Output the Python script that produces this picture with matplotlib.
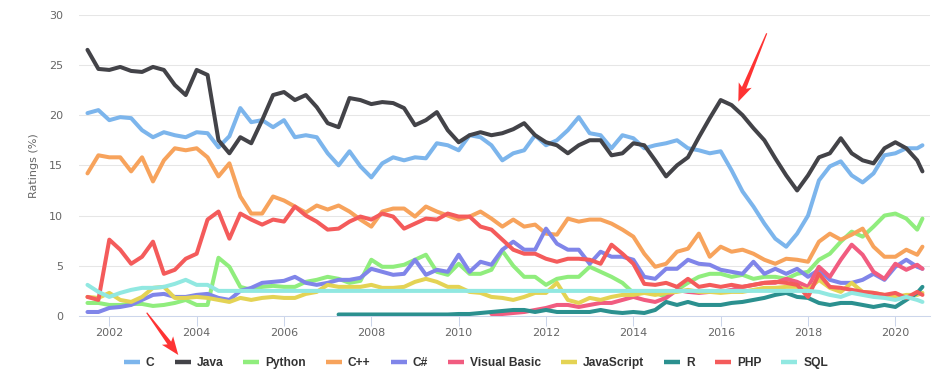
import numpy as np
import matplotlib
matplotlib.use("Agg")
import matplotlib.pyplot as plt
from matplotlib.lines import Line2D
from matplotlib.patches import Polygon

nan = np.nan

# quarterly samples Jul 2001 .. Jul 2020, plus the last month (Aug 2020)
dates = list(np.arange(2001.5, 2020.51, 0.25)) + [2020.62]

names = ["C", "Java", "Python", "C++", "C#", "Visual Basic", "JavaScript", "R", "PHP", "SQL"]
colors = ["#7cb5ec", "#434348", "#90ed7d", "#f7a35c", "#8085e9",
          "#f15c80", "#e4d354", "#2b908f", "#f45b5b", "#91e8e1"]

c_vals = [20.2, 20.5, 19.5, 19.8, 19.7, 18.5, 17.8, 18.3, 18.0, 17.8, 18.3, 18.2, 16.8,
          17.9, 20.7, 19.3, 19.5, 18.8, 19.5, 17.8, 18.0, 17.8, 16.2, 15.0, 16.4, 14.9,
          13.8, 15.2, 15.8, 15.5, 15.8, 15.7, 17.2, 17.0, 16.5, 18.0, 17.8, 17.0, 15.5,
          16.2, 16.5, 18.0, 17.0, 17.5, 18.5, 19.8, 18.2, 18.0, 16.7, 18.0, 17.7, 16.7,
          17.0, 17.2, 17.5, 16.7, 16.5, 16.2, 16.4, 14.5, 12.4, 10.9, 9.2, 7.7, 6.9,
          8.2, 10.0, 13.5, 14.9, 15.4, 14.0, 13.3, 14.2, 16.0, 16.2, 16.7, 16.7, 17.0]

java_vals = [26.5, 24.6, 24.5, 24.8, 24.4, 24.3, 24.8, 24.5, 23.0, 22.0, 24.5, 24.0, 17.5,
             16.2, 17.8, 17.2, 19.5, 22.0, 22.3, 21.5, 22.0, 20.8, 19.2, 18.8, 21.7, 21.5,
             21.1, 21.3, 21.2, 20.7, 19.0, 19.5, 20.3, 18.5, 17.3, 18.0, 18.3, 18.0, 18.2,
             18.6, 19.2, 18.0, 17.3, 17.0, 16.2, 17.0, 17.5, 17.5, 16.0, 16.2, 17.2, 17.0,
             15.5, 13.9, 15.0, 15.8, 17.8, 19.7, 21.5, 21.0, 20.0, 18.7, 17.5, 15.7, 14.0,
             12.5, 14.0, 15.8, 16.2, 17.7, 16.2, 15.5, 15.2, 16.7, 17.3, 16.7, 15.5, 14.4]

python_vals = [1.3, 1.3, 1.1, 1.1, 1.2, 1.2, 1.0, 1.1, 1.3, 1.6, 1.1, 1.1, 5.8,
               4.9, 2.9, 2.6, 2.9, 3.0, 2.9, 2.9, 3.4, 3.6, 3.9, 3.7, 3.3, 3.5,
               5.6, 4.9, 4.9, 5.1, 5.6, 6.1, 4.4, 4.1, 5.2, 4.2, 4.2, 4.6, 6.5,
               5.0, 3.9, 3.9, 3.1, 3.7, 3.9, 3.9, 4.9, 4.4, 3.9, 3.3, 2.3, 2.4,
               2.3, 1.9, 2.6, 3.3, 3.9, 4.2, 4.2, 3.9, 4.1, 3.7, 3.9, 3.9, 3.7,
               4.2, 4.4, 5.6, 6.2, 7.4, 8.4, 7.9, 8.9, 10.0, 10.2, 9.7, 8.6, 9.7]

cpp_vals = [14.2, 16.0, 15.8, 15.8, 14.4, 15.8, 13.4, 15.5, 16.7, 16.5, 16.7, 15.8, 13.9,
            15.2, 11.9, 10.2, 10.2, 11.9, 11.5, 10.9, 10.3, 11.0, 10.6, 11.0, 10.4, 9.6,
            8.9, 10.4, 10.7, 10.7, 9.9, 10.9, 10.4, 10.0, 9.6, 9.9, 10.4, 9.7, 8.9,
            9.6, 8.9, 9.1, 8.2, 8.1, 9.7, 9.4, 9.6, 9.6, 9.2, 8.6, 7.9, 6.2,
            4.9, 5.2, 6.4, 6.7, 8.2, 5.9, 6.9, 6.4, 6.6, 6.2, 5.6, 5.2, 5.7,
            5.6, 5.4, 7.4, 8.2, 7.6, 8.1, 8.7, 6.9, 5.9, 5.9, 6.6, 6.1, 6.9]

csharp_vals = [0.4, 0.4, 0.8, 0.9, 1.1, 1.6, 2.1, 2.2, 1.9, 1.9, 2.1, 2.2, 1.8,
               1.6, 2.5, 2.8, 3.3, 3.4, 3.5, 3.9, 3.3, 3.1, 3.3, 3.6, 3.6, 3.8,
               4.7, 4.4, 4.1, 4.2, 5.6, 4.1, 4.6, 4.4, 6.1, 4.4, 5.4, 5.1, 6.6,
               7.4, 6.6, 6.6, 8.7, 7.2, 6.6, 6.6, 5.2, 6.4, 5.9, 5.9, 5.6, 3.9,
               3.7, 4.7, 4.7, 5.6, 5.2, 5.1, 4.6, 4.4, 4.2, 5.4, 4.2, 4.7, 4.2,
               4.7, 3.9, 4.6, 3.6, 3.3, 3.3, 3.6, 4.2, 3.6, 4.9, 5.6, 4.9, 4.7]

vb_vals = [nan, nan, nan, nan, nan, nan, nan, nan, nan, nan, nan, nan, nan,
           nan, nan, nan, nan, nan, nan, nan, nan, nan, nan, nan, nan, nan,
           nan, nan, nan, nan, nan, nan, nan, nan, nan, nan, nan, 0.2, 0.2,
           0.3, 0.4, 0.6, 0.8, 1.1, 1.1, 0.9, 1.1, 1.3, 1.3, 1.6, 1.9, 1.6,
           1.4, 1.8, 2.6, 2.4, 2.3, 2.4, 2.4, 2.6, 2.9, 3.1, 3.3, 3.3, 3.7,
           3.4, 2.9, 4.9, 3.9, 5.6, 7.1, 6.1, 4.4, 3.7, 5.2, 4.6, 5.1, 4.7]

js_vals = [1.9, 1.8, 2.3, 1.6, 1.4, 1.9, 2.8, 2.9, 1.8, 1.8, 1.9, 1.8, 1.6,
           1.4, 1.8, 1.6, 1.8, 1.9, 1.8, 1.8, 2.2, 2.4, 3.1, 2.9, 2.9, 2.9,
           3.1, 2.8, 2.8, 2.9, 3.4, 3.7, 3.4, 2.9, 2.9, 2.4, 2.3, 1.9, 1.8,
           1.6, 1.9, 2.3, 2.3, 3.3, 1.6, 1.3, 1.8, 1.6, 1.9, 2.1, 2.1, 2.3,
           2.1, 2.3, 2.4, 2.6, 2.4, 2.4, 2.3, 2.4, 2.4, 2.6, 2.8, 2.8, 2.9,
           2.9, 2.6, 3.6, 2.8, 2.4, 3.3, 2.4, 2.3, 2.1, 1.9, 2.1, 2.1, 2.3]

r_vals = [nan, nan, nan, nan, nan, nan, nan, nan, nan, nan, nan, nan, nan,
          nan, nan, nan, nan, nan, nan, nan, nan, nan, nan, 0.15, 0.15, 0.15,
          0.15, 0.15, 0.15, 0.15, 0.15, 0.15, 0.15, 0.15, 0.2, 0.2, 0.3, 0.4, 0.5,
          0.6, 0.6, 0.4, 0.6, 0.4, 0.4, 0.4, 0.4, 0.6, 0.4, 0.3, 0.4, 0.3,
          0.6, 1.4, 1.1, 1.4, 1.1, 1.1, 1.1, 1.3, 1.4, 1.6, 1.8, 2.1, 2.3,
          1.9, 1.8, 1.3, 1.1, 1.3, 1.3, 1.1, 0.9, 1.1, 0.9, 1.6, 2.3, 2.9]

php_vals = [1.9, 1.6, 7.6, 6.6, 5.2, 5.9, 7.4, 4.2, 4.6, 5.7, 6.2, 9.6, 10.4,
            7.7, 10.2, 9.6, 9.1, 9.6, 9.4, 10.9, 10.0, 9.4, 8.6, 8.7, 9.4, 9.9,
            9.6, 10.2, 9.9, 8.7, 9.2, 9.7, 9.6, 10.2, 9.9, 9.9, 8.9, 8.6, 7.6,
            6.6, 6.2, 6.2, 5.7, 5.4, 5.7, 5.7, 5.6, 5.2, 7.1, 6.2, 5.2, 3.2,
            3.1, 3.3, 2.9, 3.7, 2.9, 3.1, 2.9, 3.1, 2.9, 3.1, 3.3, 3.4, 3.3,
            3.1, 1.9, 4.2, 2.9, 2.8, 2.6, 2.4, 2.3, 2.1, 2.3, 1.8, 2.4, 2.1]

sql_vals = [3.1, 2.4, 1.9, 2.3, 2.6, 2.8, 2.8, 2.9, 3.2, 3.6, 3.1, 3.1, 2.5,
            2.5, 2.5, 2.5, 2.5, 2.5, 2.5, 2.5, 2.5, 2.5, 2.5, 2.5, 2.5, 2.5,
            2.5, 2.5, 2.5, 2.5, 2.5, 2.5, 2.5, 2.5, 2.5, 2.5, 2.5, 2.5, 2.5,
            2.5, 2.5, 2.5, 2.5, 2.5, 2.5, 2.5, 2.5, 2.5, 2.5, 2.5, 2.5, 2.5,
            2.5, 2.5, 2.5, 2.5, 2.5, 2.5, 2.5, 2.5, 2.5, 2.5, 2.5, 2.5, 2.5,
            2.5, 2.5, 2.4, 2.1, 1.9, 2.3, 2.1, 1.9, 1.8, 1.6, 1.9, 1.6, 1.4]

series = [c_vals, java_vals, python_vals, cpp_vals, csharp_vals,
          vb_vals, js_vals, r_vals, php_vals, sql_vals]

year_ticks = [2002, 2004, 2006, 2008, 2010, 2012, 2014, 2016, 2018, 2020]
rating_ticks = [0, 5, 10, 15, 20, 25, 30]

W, H = 952, 388


def red_arrow(fig, tail, tip, color="#fe3333"):
    # tail / tip given in pixels from the top-left corner
    t = np.array(tail, float)
    p = np.array(tip, float)
    u = (p - t) / np.hypot(*(p - t))
    n = np.array([-u[1], u[0]])
    base = p - u * 15
    pts = [t + n * 0.6, base + n * 2.3, base - u * 3 + n * 7, p,
           base - u * 3 - n * 7, base - n * 2.3, t - n * 0.6]
    pts = [(x / W, 1 - y / H) for x, y in pts]
    fig.patches.append(Polygon(pts, closed=True, transform=fig.transFigure,
                               facecolor=color, edgecolor="none", zorder=20))


fig = plt.figure(figsize=(W / 100, H / 100), dpi=100)
ax = fig.add_axes([79 / W, 1 - 316 / H, (930 - 79) / W, (316 - 14.7) / H])

for i, (vals, col) in enumerate(zip(series, colors)):
    ax.plot(dates, vals, color=col, lw=2.9, solid_joinstyle="round",
            solid_capstyle="round", zorder=3 + i)

ax.set_xlim(2001.306, 2020.793)
ax.set_ylim(0, 30)
ax.set_xticks(year_ticks)
ax.set_yticks(rating_ticks)
ax.yaxis.grid(True, color="#e6e6e6", lw=0.75)
ax.set_axisbelow(True)
for s in ["top", "right", "left"]:
    ax.spines[s].set_visible(False)
ax.spines["bottom"].set_color("#ccd6eb")
ax.spines["bottom"].set_linewidth(0.75)
ax.spines["bottom"].set_zorder(2)
ax.tick_params(axis="x", length=7.2, width=0.75, color="#ccd6eb", pad=1.5,
               labelsize=8, labelcolor="#666666")
ax.tick_params(axis="y", length=0, pad=11.5, labelsize=8, labelcolor="#666666")
ax.set_ylabel("Ratings (%)", fontsize=8, color="#666666")
ax.yaxis.set_label_coords((39 - 79) / (930 - 79), 0.5)

handles = [Line2D([], [], color=c, lw=3.2, solid_capstyle="butt") for c in colors]
leg = fig.legend(handles, names, loc="center", bbox_to_anchor=(0.5, 1 - 363 / H),
                 ncol=10, frameon=False, handlelength=1.33, handletextpad=0.5,
                 columnspacing=1.67, borderaxespad=0,
                 prop={"family": "Liberation Sans", "weight": "bold", "size": 8.64})
for t in leg.get_texts():
    t.set_color("#333333")

red_arrow(fig, (766.7, 33.3), (738.3, 101.7))
red_arrow(fig, (146.7, 312.7), (178.3, 355.0))

fig.savefig("out.png", dpi=100)
